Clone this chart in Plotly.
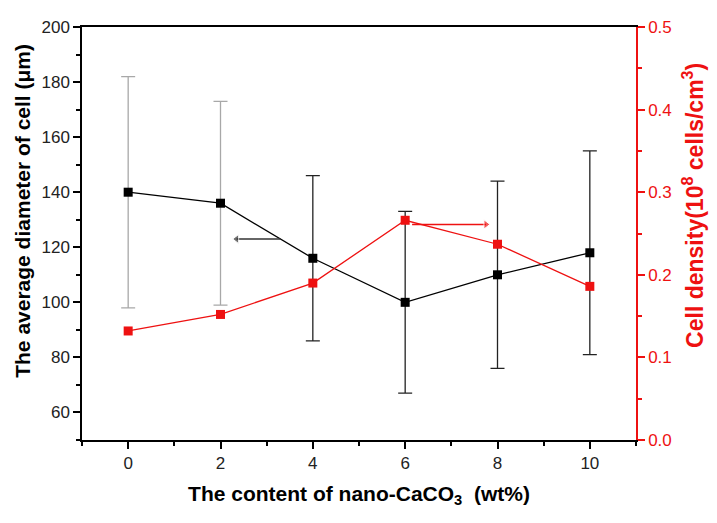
import plotly.graph_objects as go

content = [0, 2, 4, 6, 8, 10]
diameter = [140, 136, 116, 100, 110, 118]
diameter_err = [42, 37, 30, 33, 34, 37]
density = [0.132, 0.152, 0.190, 0.266, 0.237, 0.186]

# indicator arrows (tail -> head) pointing to each series' axis
black_arrow_x = [3.3, 2.35]
black_arrow_y = [123, 123]
red_arrow_x = [6.15, 7.75]
red_arrow_y = [0.261, 0.261]

FONT = "Liberation Sans, Arial, sans-serif"
RED = "#ee1111"

fig = go.Figure()

fig.add_trace(go.Scatter(
    x=content[:2], y=diameter[:2], mode="markers",
    marker=dict(size=1, color="rgba(0,0,0,0)"),
    error_y=dict(type="data", array=diameter_err[:2], color="#a8a8a8", thickness=1.3, width=7),
    showlegend=False, hoverinfo="skip"))
fig.add_trace(go.Scatter(
    x=content[2:], y=diameter[2:], mode="markers",
    marker=dict(size=1, color="rgba(0,0,0,0)"),
    error_y=dict(type="data", array=diameter_err[2:], color="#222222", thickness=1.3, width=7),
    showlegend=False, hoverinfo="skip"))

fig.add_trace(go.Scatter(
    x=content, y=diameter, mode="lines+markers",
    line=dict(color="black", width=1.3),
    marker=dict(symbol="square", size=9, color="black"),
    showlegend=False))

fig.add_trace(go.Scatter(
    x=content, y=density, mode="lines+markers", yaxis="y2",
    line=dict(color=RED, width=1.3),
    marker=dict(symbol="square", size=9, color=RED),
    showlegend=False))

# arrows
fig.add_trace(go.Scatter(
    x=black_arrow_x, y=black_arrow_y, mode="lines+markers",
    line=dict(color="#333333", width=1.5),
    marker=dict(symbol=["circle", "triangle-left"], size=[0, 8], color="#333333"),
    showlegend=False, hoverinfo="skip"))
fig.add_trace(go.Scatter(
    x=red_arrow_x, y=red_arrow_y, mode="lines+markers", yaxis="y2",
    line=dict(color=RED, width=1.5),
    marker=dict(symbol=["circle", "triangle-right"], size=[0, 8], color=RED),
    showlegend=False, hoverinfo="skip"))

# axis titles (placed as annotations to match the original's offsets)
fig.add_annotation(text="<b>The average diameter of cell (μm)</b>",
                   xref="paper", yref="paper", x=-0.1065, y=0.555,
                   xanchor="center", yanchor="middle", textangle=-90,
                   showarrow=False, font=dict(size=21, color="black"))
fig.add_annotation(text="<b>Cell density(10<sup>8</sup> cells/cm<sup>3</sup>)</b>",
                   xref="paper", yref="paper", x=1.103, y=0.567,
                   xanchor="center", yanchor="middle", textangle=-90,
                   showarrow=False, font=dict(size=23, color=RED))

fig.update_layout(
    width=709, height=515,
    margin=dict(l=74, r=81, t=19, b=83),
    plot_bgcolor="white", paper_bgcolor="white",
    font=dict(family=FONT, size=17, color="#222222"),
    xaxis=dict(
        range=[-1, 11], tickvals=content, ticks="outside", ticklen=7,
        tickwidth=1.5, linecolor="black", linewidth=1.5, mirror=True,
        showgrid=False, zeroline=False, automargin=False,
        minor=dict(tickvals=[-1, 1, 3, 5, 7, 9, 11], ticks="outside", ticklen=4, tickwidth=1.5, tickcolor="black"),
        tickcolor="black", tickfont=dict(size=17),
        title=dict(text="<b>The content of nano-CaCO<sub>3</sub>  (wt%)</b>",
                   font=dict(size=21, color="black"), standoff=14),
    ),
    yaxis=dict(
        range=[50, 200], tickvals=[60, 80, 100, 120, 140, 160, 180, 200],
        ticks="outside", ticklen=7, tickwidth=1.5, tickcolor="black",
        linecolor="black", linewidth=1.5, showgrid=False, zeroline=False,
        automargin=False,
        minor=dict(tickvals=[50, 70, 90, 110, 130, 150, 170, 190], ticks="outside", ticklen=4, tickwidth=1.5, tickcolor="black"),
        tickfont=dict(size=17),
    ),
    yaxis2=dict(
        range=[0, 0.5], tickvals=[0, 0.1, 0.2, 0.3, 0.4, 0.5], tickformat=".1f",
        overlaying="y", side="right", automargin=False,
        ticks="outside", ticklen=7, tickwidth=1.5, tickcolor=RED,
        linecolor=RED, linewidth=1.5, showgrid=False, zeroline=False,
        minor=dict(tickvals=[0.05, 0.15, 0.25, 0.35, 0.45], ticks="outside", ticklen=4, tickwidth=1.5, tickcolor=RED),
        tickfont=dict(size=17, color=RED),
    ),
)

fig.write_html("out.html")
